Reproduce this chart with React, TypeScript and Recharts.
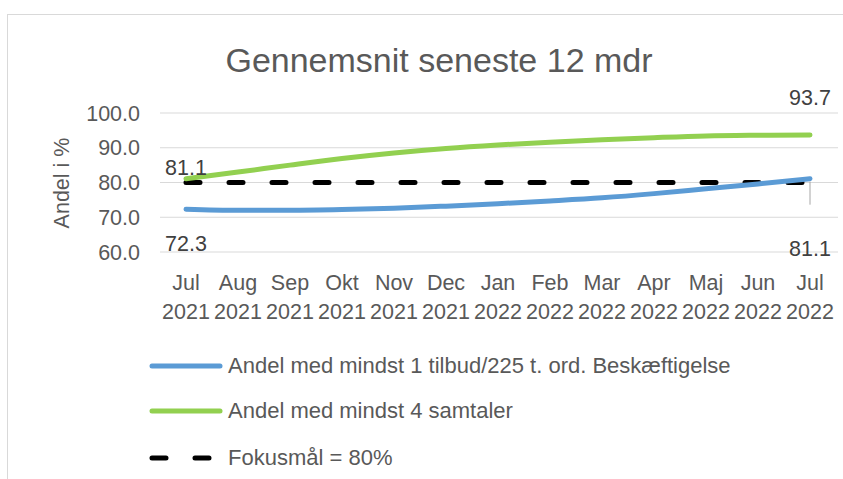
import { LineChart, Line, XAxis, YAxis, CartesianGrid, Customized } from 'recharts'

const months = ['Jul', 'Aug', 'Sep', 'Okt', 'Nov', 'Dec', 'Jan', 'Feb', 'Mar', 'Apr', 'Maj', 'Jun', 'Jul']
const years = ['2021', '2021', '2021', '2021', '2021', '2021', '2022', '2022', '2022', '2022', '2022', '2022', '2022']
const tilbud = [72.3, 72.0, 72.0, 72.2, 72.6, 73.2, 73.9, 74.7, 75.6, 76.8, 78.2, 79.6, 81.1]
const samtaler = [81.1, 83.0, 85.0, 86.9, 88.5, 89.8, 90.8, 91.6, 92.3, 92.9, 93.4, 93.6, 93.7]
const fokus = [80, 80, 80, 80, 80, 80, 80, 80, 80, 80, 80, 80, 80]
const yTicks = [60, 70, 80, 90, 100]

const data = months.map((m, i) => ({
  m: m + ' ' + years[i],
  tilbud: tilbud[i],
  samtaler: samtaler[i],
  fokus: fokus[i],
}))

const FONT = '"Liberation Sans", Arial, sans-serif'
const TXT = '#595959'
const BLUE = '#5B9BD5'
const GREEN = '#92D050'
const FS = 21.5

function XTick(props: any) {
  const { x, y, payload } = props
  const [mo, yr] = String(payload.value).split(' ')
  return (
    <g>
      <text x={x} y={y + 38} textAnchor="middle" fontSize={FS} fill={TXT} fontFamily={FONT}>{mo}</text>
      <text x={x} y={y + 67} textAnchor="middle" fontSize={FS} fill={TXT} fontFamily={FONT}>{yr}</text>
    </g>
  )
}

// labels only at first and last point, like the excel chart
function greenLabel(props: any) {
  const { x, y, value, index } = props
  if (index === 0)
    return <text x={x} y={y - 4} textAnchor="middle" fontSize={FS} fill="#404040" fontFamily={FONT}>{value.toFixed(1)}</text>
  if (index === samtaler.length - 1)
    return <text x={x} y={y - 30} textAnchor="middle" fontSize={FS} fill="#404040" fontFamily={FONT}>{value.toFixed(1)}</text>
  return null
}

function blueLabel(props: any) {
  const { x, y, value, index } = props
  if (index === 0)
    return <text x={x} y={y + 42} textAnchor="middle" fontSize={FS} fill="#404040" fontFamily={FONT}>{value.toFixed(1)}</text>
  if (index === tilbud.length - 1)
    return (
      <g>
        <line x1={x} y1={y + 3} x2={x} y2={y + 26} stroke="#A6A6A6" strokeWidth={1} />
        <text x={x} y={y + 77} textAnchor="middle" fontSize={FS} fill="#404040" fontFamily={FONT}>{value.toFixed(1)}</text>
      </g>
    )
  return null
}

function Frame() {
  return (
    <g>
      <rect x={7.5} y={14.5} width={900} height={600} fill="none" stroke="#D9D9D9" />
      <text x={439} y={72} textAnchor="middle" fontSize={34} fill={TXT} fontFamily={FONT}>Gennemsnit seneste 12 mdr</text>
      <text transform="translate(69,183) rotate(-90)" textAnchor="middle" fontSize={FS} fill={TXT} fontFamily={FONT}>Andel i %</text>
      <g fontFamily={FONT} fontSize={22} fill={TXT}>
        <line x1={152} y1={366} x2={220} y2={366} stroke={BLUE} strokeWidth={5} strokeLinecap="round" />
        <text x={228} y={373}>Andel med mindst 1 tilbud/225 t. ord. Beskæftigelse</text>
        <line x1={152} y1={411} x2={220} y2={411} stroke={GREEN} strokeWidth={5} strokeLinecap="round" />
        <text x={228} y={418}>Andel med mindst 4 samtaler</text>
        <line x1={152} y1={458} x2={220} y2={458} stroke="#000" strokeWidth={5} strokeLinecap="round" strokeDasharray="14 29" />
        <text x={228} y={465}>Fokusmål = 80%</text>
      </g>
    </g>
  )
}

export default function App() {
  return (
    <div style={{ position: 'absolute', left: 0, top: 0, width: 843, height: 479, background: '#fff' }}>
      <LineChart width={843} height={479} data={data} margin={{ top: 113, right: 5, bottom: 147, left: 0 }}>
        <Customized component={Frame} />
        <CartesianGrid vertical={false} stroke="#D9D9D9" />
        <XAxis dataKey="m" axisLine={false} tickLine={false} tickSize={0} tickMargin={0} interval={0} tick={XTick} padding={{ left: 26, right: 28 }} height={80} />
        <YAxis
          domain={[60, 100]}
          ticks={yTicks}
          interval={0}
          width={160}
          axisLine={false}
          tickLine={false}
          tickSize={0}
          tickMargin={20}
          tickFormatter={(v: number) => v.toFixed(1)}
          tick={{ fontSize: FS, fill: TXT, fontFamily: FONT }}
        />
        <Line dataKey="fokus" stroke="#000" strokeWidth={5} strokeDasharray="14 29" strokeLinecap="round" dot={false} isAnimationActive={false} />
        <Line dataKey="tilbud" type="monotone" stroke={BLUE} strokeWidth={5} strokeLinecap="round" dot={false} label={blueLabel} isAnimationActive={false} />
        <Line dataKey="samtaler" type="monotone" stroke={GREEN} strokeWidth={5} strokeLinecap="round" dot={false} label={greenLabel} isAnimationActive={false} />
      </LineChart>
    </div>
  )
}
